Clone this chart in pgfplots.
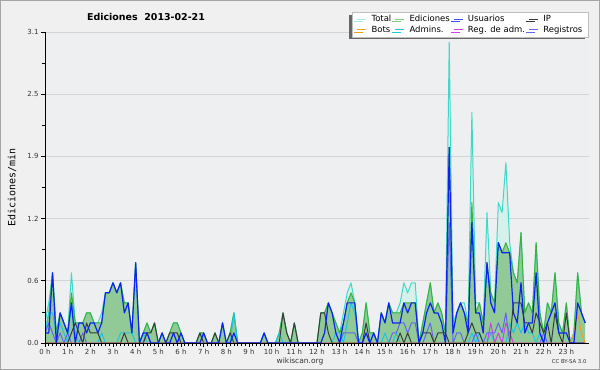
\documentclass[border=0pt]{standalone}
\usepackage{fontspec}
\setmainfont{DejaVu Sans}
\newfontfamily\monofont{DejaVu Sans Mono}
\usepackage{pgfplots}
\pgfplotsset{compat=1.18}
\usepackage{pgfplotstable}
\usetikzlibrary{shadows}

\definecolor{outerbg}{HTML}{F0F0F0}
\definecolor{plotbg}{HTML}{EDEFF1}
\definecolor{cTotal}{HTML}{40D8C8}
\definecolor{cTotalFill}{HTML}{D6F1EC}
\definecolor{cEd}{HTML}{38B23C}
\definecolor{cEdFill}{HTML}{92CA97}
\definecolor{cUs}{HTML}{0C24F0}
\definecolor{cIP}{HTML}{3A3A3A}
\definecolor{cBot}{HTML}{F0A020}
\definecolor{cAdm}{HTML}{20C4E0}
\definecolor{cReg}{HTML}{D040E8}
\definecolor{cLog}{HTML}{6464F0}

\pgfplotstableread{
i T E U I B A M R
0 0.2 0.1 0.1 0 0 0.1 0 0.1
1 0.4 0.3 0.1 0 0 0.3 0 0.2
2 0.7 0.7 0.7 0 0 0.3 0 0.1
3 0.1 0.1 0 0 0 0.1 0 0
4 0.3 0.3 0.3 0 0 0.2 0 0.1
5 0.2 0.2 0.2 0 0 0.1 0 0
6 0.1 0.1 0.1 0 0 0 0 0.1
7 0.7 0.5 0.4 0.1 0 0.4 0 0
8 0.2 0.2 0 0.2 0 0.1 0 0
9 0.2 0.2 0.2 0.1 0 0 0 0
10 0.2 0.2 0.2 0 0 0 0 0.1
11 0.3 0.3 0.1 0.2 0 0 0 0
12 0.3 0.3 0.2 0.1 0 0 0 0
13 0.2 0.2 0.2 0.1 0 0 0 0
14 0.2 0.2 0.1 0.1 0 0 0 0
15 0.3 0.2 0.2 0 0 0.1 0 0
16 0.5 0.5 0.5 0 0 0 0 0
17 0.5 0.5 0.5 0 0 0 0 0
18 0.6 0.6 0.6 0 0 0 0 0
19 0.5 0.5 0.5 0 0 0 0 0
20 0.6 0.6 0.6 0 0 0.1 0 0
21 0.4 0.4 0.3 0.1 0 0.1 0 0
22 0.4 0.4 0.4 0 0 0.1 0 0
23 0.1 0.1 0.1 0 0 0.1 0 0
24 0.8 0.8 0.8 0 0 0 0 0
25 0 0 0 0 0 0 0 0
26 0.1 0.1 0.1 0 0 0.1 0 0
27 0.2 0.2 0.1 0.1 0 0 0 0.1
28 0.1 0.1 0 0.1 0 0 0 0
29 0.2 0.2 0 0.2 0 0 0 0
30 0 0 0 0 0 0 0 0
31 0.1 0.1 0.1 0 0 0 0 0
32 0 0 0 0 0 0 0 0
33 0.1 0.1 0 0.1 0 0 0 0
34 0.2 0.2 0.1 0.1 0 0 0 0
35 0.2 0.2 0 0.1 0 0 0 0
36 0.1 0.1 0.1 0 0 0 0 0
37 0 0 0 0 0 0 0 0
38 0 0 0 0 0 0 0 0
39 0 0 0 0 0 0 0 0
40 0 0 0 0 0 0 0 0
41 0.1 0.1 0 0.1 0 0 0 0
42 0.1 0.1 0.1 0 0 0 0 0
43 0 0 0 0 0 0 0 0
44 0 0 0 0 0 0 0 0
45 0.1 0.1 0 0.1 0 0 0 0
46 0 0 0 0 0 0 0 0
47 0.2 0.2 0.2 0 0 0 0 0
48 0 0 0 0 0 0 0 0
49 0.1 0.1 0 0.1 0 0 0 0
50 0.3 0.3 0.1 0 0 0.3 0 0
51 0 0 0 0 0 0 0 0
52 0 0 0 0 0 0 0 0
53 0 0 0 0 0 0 0 0
54 0 0 0 0 0 0 0 0
55 0 0 0 0 0 0 0 0
56 0 0 0 0 0 0 0 0
57 0 0 0 0 0 0 0 0
58 0.1 0.1 0.1 0 0 0 0 0
59 0 0 0 0 0 0 0 0
60 0 0 0 0 0 0 0 0
61 0 0 0 0 0 0 0 0
62 0.1 0.1 0 0 0 0.1 0 0
63 0.3 0.3 0 0.3 0 0 0 0
64 0.1 0.1 0 0.1 0 0 0 0
65 0 0 0 0 0 0 0 0
66 0.2 0.2 0 0.2 0 0 0 0
67 0 0 0 0 0 0 0 0
68 0 0 0 0 0 0 0 0
69 0 0 0 0 0 0 0 0
70 0 0 0 0 0 0 0 0
71 0 0 0 0 0 0 0 0
72 0 0 0 0 0 0 0 0
73 0.3 0.3 0 0.3 0 0 0 0
74 0.3 0.3 0.1 0.3 0 0 0 0
75 0.4 0.4 0.4 0.1 0 0 0 0
76 0.3 0.3 0.3 0 0 0 0 0
77 0.2 0.2 0.1 0 0 0.1 0 0
78 0.1 0.1 0 0 0 0.1 0 0
79 0.3 0.2 0.2 0 0 0 0 0.1
80 0.5 0.4 0.4 0 0 0.2 0 0.1
81 0.6 0.5 0.4 0 0 0.4 0 0.1
82 0.4 0.4 0.4 0 0 0.3 0 0.1
83 0 0 0 0 0 0 0 0
84 0.1 0.1 0 0 0 0 0 0
85 0.4 0.4 0.1 0.2 0 0 0 0
86 0.1 0.1 0 0 0 0 0 0
87 0.1 0.1 0.1 0 0 0 0 0
88 0 0 0 0 0 0 0 0
89 0.3 0.3 0.3 0 0 0 0 0
90 0.2 0.2 0.2 0 0 0.1 0 0
91 0.4 0.4 0.4 0 0 0 0 0
92 0.3 0.3 0.2 0 0 0 0 0.1
93 0.3 0.3 0.2 0 0 0.1 0 0.1
94 0.4 0.3 0.2 0.1 0 0 0 0.2
95 0.6 0.4 0.4 0 0 0 0 0.2
96 0.5 0.4 0.3 0.1 0 0 0 0.1
97 0.6 0.4 0.4 0 0 0 0 0.2
98 0.6 0.4 0.4 0 0 0 0 0.2
99 0 0 0 0 0 0 0 0
100 0.2 0.2 0.1 0.1 0 0 0 0
101 0.4 0.4 0.3 0.1 0 0 0 0.1
102 0.6 0.6 0.4 0.1 0 0 0 0.2
103 0.3 0.3 0.3 0 0 0 0 0
104 0.4 0.4 0.3 0.1 0 0 0 0
105 0.3 0.3 0.2 0.1 0 0 0 0
106 0.1 0.1 0 0.1 0 0 0 0
107 3.0 1.95 1.95 0 0 0 0 1.2
108 0.2 0.1 0.1 0 0 0 0 0
109 0.3 0.3 0.3 0 0 0 0 0.1
110 0.4 0.4 0.4 0 0 0 0 0.1
111 0.4 0.3 0.3 0 0 0 0 0
112 0.2 0.2 0.1 0.1 0 0 0 0
113 2.3 1.4 1.2 0.2 0 0.1 0 0
114 0.4 0.3 0.3 0.1 0 0 0 0.1
115 0.4 0.4 0.3 0.1 0 0.1 0 0
116 0.2 0.2 0.1 0 0 0 0 0
117 1.3 0.8 0.8 0 0 0 0 0.1
118 0.5 0.5 0.4 0 0 0.1 0.2 0.1
119 0.4 0.4 0.3 0 0 0 0 0.1
120 1.4 1.0 1.0 0 0 0 0.1 0.2
121 1.3 0.9 0.9 0 0 0 0 0.1
122 1.8 1.0 0.9 0 0 0 0.2 0.3
123 1.0 0.9 0.9 0 0 0.2 0.1 0
124 0.7 0.7 0.3 0.4 0 0.1 0 0
125 0.6 0.6 0.2 0.4 0 0.2 0 0
126 1.1 1.1 0.6 0.4 0 0.1 0 0
127 0.3 0.3 0.1 0.2 0 0.2 0 0
128 0.4 0.4 0.2 0.2 0 0.1 0 0
129 0.3 0.3 0.2 0.1 0 0.1 0 0
130 1.0 1.0 0.7 0.3 0 0 0 0
131 0.3 0.3 0.1 0.2 0 0.1 0 0
132 0.1 0.1 0 0.1 0 0 0 0.1
133 0.4 0.4 0.2 0.2 0 0 0 0
134 0.3 0.3 0.3 0 0 0 0 0
135 0.7 0.7 0.4 0.3 0 0 0 0
136 0.2 0.2 0.1 0.1 0 0 0 0
137 0.1 0.1 0.1 0 0 0 0 0
138 0.4 0.4 0.1 0.3 0 0 0 0
139 0 0 0 0 0 0 0 0
140 0.1 0.1 0 0 0.1 0 0 0
141 0.7 0.7 0.4 0 0.3 0 0 0
142 0.3 0.3 0.3 0 0.1 0 0 0
143 0.2 0.2 0.2 0 0 0 0 0
}\data

\begin{document}
\begin{tikzpicture}
\fill[outerbg] (0,0) rectangle (600bp,370bp);
\draw[black!35, line width=1bp] (0.5bp,0.5bp) rectangle (599.5bp,369.5bp);
\begin{axis}[
  at={(45bp,27bp)}, anchor=south west,
  scale only axis, width=544bp, height=311bp,
  xmin=0, xmax=144, ymin=0, ymax=3.1,
  axis x line*=bottom, axis y line*=left,
  axis line style={line width=1bp, black},
  xtick={0,6,...,138},
  xticklabels={0 h,1 h,2 h,3 h,4 h,5 h,6 h,7 h,8 h,9 h,10 h,11 h,12 h,13 h,14 h,15 h,16 h,17 h,18 h,19 h,20 h,21 h,22 h,23 h},
  minor x tick num=5,
  ytick={0,0.62,1.24,1.86,2.48,3.1},
  yticklabels={0.0,0.6,1.2,1.9,2.5,3.1},
  minor y tick num=1,
  ymajorgrids, grid style={color=black!17, line width=0.8bp},
  tick align=outside, major tick length=4bp, minor tick length=3bp,
  tick style={black, line width=0.7bp},
  x tick label style={font=\fontsize{7}{8}\selectfont, text=black!80, yshift=1bp},
  y tick label style={font=\fontsize{7}{8}\selectfont, text=black!80, xshift=1bp},
  axis background/.style={fill=plotbg},
  ylabel={Ediciones/min},
  ylabel style={font=\monofont\fontsize{10}{12}\selectfont, at={(axis description cs:-0.0607,0.5)}, anchor=center},
  no markers,
  every axis plot post/.append style={line join=round},
  legend columns=4,
  legend cell align=left,
  legend image code/.code={\draw[#1] (0bp,0bp) -- (9bp,0bp);},
  legend style={at={(0.9985,1.0645)}, anchor=north east, draw=black!25, fill=white,
    font=\fontsize{8.5}{9}\selectfont, inner xsep=5bp, inner ysep=2.5bp, row sep=1.5bp,
    nodes={inner sep=0.6bp},
    /tikz/every odd column/.append style={column sep=4bp},
    /tikz/every even column/.append style={column sep=3bp},
    drop shadow={shadow xshift=-3bp, shadow yshift=-2.5bp, fill=black!60, opacity=1}},
  after end axis/.code={
    \draw[black, line width=1bp] (rel axis cs:0,0) -- (rel axis cs:1,0);
    \draw[black, line width=1bp] (rel axis cs:0,0) -- (rel axis cs:0,1);
  },
]
\addplot[draw=none, fill=cTotalFill, forget plot] table[x=i,y=T]{\data} \closedcycle;
\addplot[draw=none, fill=cEdFill, forget plot] table[x=i,y=E]{\data} \closedcycle;
\addplot[cTotal, line width=1bp, forget plot] table[x=i,y=T]{\data};
\addplot[cEd, line width=1bp, forget plot] table[x=i,y=E]{\data};
\addplot[cAdm, line width=1bp, forget plot] table[x=i,y=A]{\data};
\addplot[cReg, line width=1bp, forget plot] table[x=i,y=M]{\data};
\addplot[cLog, line width=1bp, forget plot] table[x=i,y=R]{\data};
\addplot[cIP, line width=1bp, forget plot] table[x=i,y=I]{\data};
\addplot[cBot, line width=1bp, forget plot] table[x=i,y=B]{\data};
\addplot[cUs, line width=1.2bp, forget plot] table[x=i,y=U]{\data};

\addlegendimage{cTotal!50, line width=1bp}\addlegendentry{Total}
\addlegendimage{cEd!65, line width=1bp}\addlegendentry{Ediciones}
\addlegendimage{cUs!80, line width=1bp}\addlegendentry{Usuarios}
\addlegendimage{cIP, line width=1bp}\addlegendentry{IP}
\addlegendimage{cBot, line width=1bp}\addlegendentry{Bots}
\addlegendimage{cAdm, line width=1bp}\addlegendentry{Admins.}
\addlegendimage{cReg, line width=1bp}\addlegendentry{Reg. de adm.}
\addlegendimage{cLog, line width=1bp}\addlegendentry{Registros}
\end{axis}
\node[font=\bfseries\fontsize{9.5}{11}\selectfont] at (146bp,353bp) {Ediciones\ \ 2013-02-21};
\node[font=\fontsize{7.5}{9}\selectfont, text=black!80] at (300bp,9bp) {wikiscan.org};
\node[font=\fontsize{5.4}{6}\selectfont, text=black!80, anchor=east] at (590bp,8bp) {CC BY-SA 3.0};
\pgfresetboundingbox
\useasboundingbox (0,0) rectangle (600bp,370bp);
\end{tikzpicture}
\end{document}
